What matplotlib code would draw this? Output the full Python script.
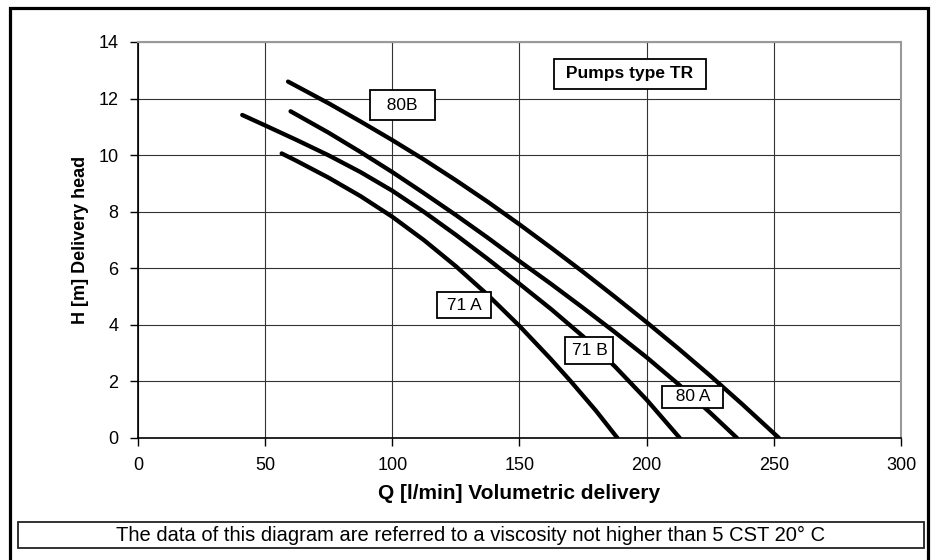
import matplotlib
matplotlib.use("Agg")
import matplotlib.pyplot as plt
from matplotlib.patches import Rectangle

plt.rcParams["font.family"] = ["Liberation Sans", "DejaVu Sans"]

# Pump curves: Q [l/min] vs H [m]
q_80b = [59, 75, 87.5, 100, 112.5, 125, 137.5, 150, 162.5, 175, 187.5, 200, 212.5, 225, 237.5, 252]
h_80b = [12.6, 11.83, 11.19, 10.53, 9.84, 9.11, 8.35, 7.55, 6.72, 5.87, 4.99, 4.09, 3.16, 2.2, 1.2, 0]

q_80a = [60, 75, 87.5, 100, 112.5, 125, 137.5, 150, 162.5, 175, 187.5, 200, 212.5, 225, 235.5]
h_80a = [11.55, 10.79, 10.11, 9.4, 8.65, 7.88, 7.08, 6.25, 5.44, 4.6, 3.74, 2.85, 1.9, 0.89, 0]

q_71b = [41, 50, 62.5, 75, 87.5, 100, 112.5, 125, 137.5, 150, 162.5, 175, 187.5, 200, 213]
h_71b = [11.42, 11.05, 10.53, 9.99, 9.4, 8.74, 7.99, 7.18, 6.33, 5.45, 4.55, 3.59, 2.53, 1.35, 0]

q_71a = [56.5, 62.5, 75, 87.5, 100, 112.5, 125, 137.5, 150, 162, 170, 180, 188.5]
h_71a = [10.06, 9.79, 9.2, 8.55, 7.82, 6.99, 6.07, 5.06, 3.96, 2.82, 2.02, 0.97, 0]

curve_names = ["80B", "80 A", "71 B", "71 A"]
label_q = [104, 218, 177.5, 128]
label_h = [11.77, 1.45, 3.1, 4.7]

x_ticks = [0, 50, 100, 150, 200, 250, 300]
y_ticks = [0, 2, 4, 6, 8, 10, 12, 14]

fig = plt.figure(figsize=(9.31, 5.6), dpi=100)
ax = fig.add_axes([0.1482, 0.2179, 0.8196, 0.7071])

for q, h in [(q_80b, h_80b), (q_80a, h_80a), (q_71b, h_71b), (q_71a, h_71a)]:
    ax.plot(q, h, color="black", lw=3.1, solid_joinstyle="round",
            solid_capstyle="round", zorder=3)

# label boxes: (spaces around text, box padding)
box_style = {"80B": (2, 0.45), "80 A": (2, 0.2), "71 B": (0, 0.35), "71 A": (1, 0.3)}
for name, q, h in zip(curve_names, label_q, label_h):
    n_sp, pad = box_style[name]
    txt = " " * n_sp + name + " " * n_sp
    ax.text(q, h, txt, fontsize=12.5, ha="center", va="center", zorder=5,
            bbox=dict(boxstyle="square,pad=%s" % pad, fc="white", ec="black", lw=1.3))

ax.text(193.4, 12.87, " Pumps type TR ", fontsize=12.5, fontweight="bold",
        ha="center", va="center", zorder=5,
        bbox=dict(boxstyle="square,pad=0.45", fc="white", ec="black", lw=1.3))

ax.set_xlim(0, 300)
ax.set_ylim(0, 14)
ax.set_xticks(x_ticks)
ax.set_yticks(y_ticks)
ax.tick_params(direction="out", length=6, width=1, labelsize=13, pad=8)
ax.grid(True, color="#333333", lw=0.8)
ax.set_axisbelow(True)

for s in ["top", "right"]:
    ax.spines[s].set_color("#999999")
    ax.spines[s].set_linewidth(1.5)
for s in ["left", "bottom"]:
    ax.spines[s].set_linewidth(1.2)

ax.set_xlabel("Q [l/min] Volumetric delivery", fontsize=15, fontweight="bold", labelpad=7)
ax.set_ylabel("H [m] Delivery head", fontsize=13, fontweight="bold", labelpad=7)

# outer frame
fig.patches.append(Rectangle((9.5 / 931, -0.02), 918 / 931, 0.02 + 1 - 8 / 560,
                             transform=fig.transFigure, fill=False, ec="black", lw=2.3))
# footer box
fig.patches.append(Rectangle((18 / 931, 1 - 548 / 560), 906 / 931, 26 / 560,
                             transform=fig.transFigure, fill=False, ec="#222222", lw=1.3))
fig.text(471 / 931, 1 - 535 / 560,
         "The data of this diagram are referred to a viscosity not higher than 5 CST 20° C",
         fontsize=14.5, ha="center", va="center")

fig.savefig("out.png", dpi=100)
